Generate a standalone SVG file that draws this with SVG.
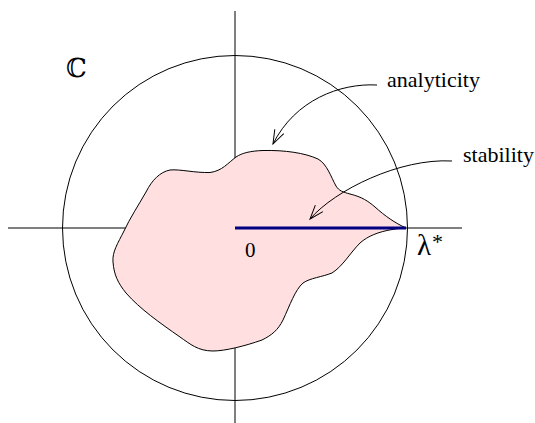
<svg xmlns="http://www.w3.org/2000/svg" width="535" height="423" viewBox="0 0 535 423">
<style>
.ln{fill:none;stroke:#000;stroke-width:1}
.txt{font-family:"Liberation Serif","Times New Roman",serif;fill:#000}
</style>
<defs>
<marker id="arr" viewBox="-16 -7 17 14" refX="0" refY="0" markerWidth="17" markerHeight="14" markerUnits="userSpaceOnUse" orient="auto" overflow="visible">
<path d="M-14,-5 L0,0 L-14,5" fill="none" stroke="#000" stroke-width="1"/>
</marker>
</defs>
<rect width="535" height="423" fill="#fff"/>
<g id="plane">
<circle class="ln" cx="235" cy="228" r="172.5"/>
<line class="ln" x1="8" y1="228" x2="462" y2="228"/>
<line class="ln" x1="235" y1="11" x2="235" y2="423"/>
</g>
<g id="region">
<path d="M406,228 C395,223 385,216 375,207 C368,201 362,197 350,194 C343,192 339,191 336,186 C331,177 327,164 318,159 C305,153 285,150 263,150.5 C250,151 242,153 236,157 C228,163 222,171 210,172.5 C195,173 180,169 170,170 C160,172 152,180 146,192 C138,206 130,218 124,231 C118,243 112,252 113,262 C114,275 118,283 126,293 C140,309 160,323 180,337 C190,344 198,351 213,351 C225,351 245,346 262,340 C272,335 278,330 283,320 C290,305 295,290 303,283 C310,278 322,277 332,273 C343,266 350,253 360,243 C368,236 378,232 392,229.5 C398,228.5 402,228 406,228 Z" fill="#ffdfe0" stroke="#000" stroke-width="1"/>
<line x1="235" y1="228" x2="406" y2="228" stroke="#000080" stroke-width="3"/>
</g>
<g id="connectors">
<path class="ln" d="M377,85 C340,83 295,100 273,144" marker-end="url(#arr)"/>
<path class="ln" d="M452,161 C400,158 335,190 310,219" marker-end="url(#arr)"/>
</g>
<g id="label-C"><text class="txt" x="66" y="77" style="font-family:'DejaVu Serif',serif" font-size="26">ℂ</text></g>
<g id="label-analyticity"><text class="txt" x="387" y="87" font-size="21" textLength="93" lengthAdjust="spacingAndGlyphs">analyticity</text></g>
<g id="label-stability"><text class="txt" x="463" y="162" font-size="21" textLength="71" lengthAdjust="spacingAndGlyphs">stability</text></g>
<g id="label-0"><text class="txt" x="245" y="256.5" font-size="21">0</text></g>
<g id="label-lambda"><text class="txt" x="417" y="254.5" font-size="29">λ</text><text class="txt" x="432" y="249" font-size="22">*</text></g>
</svg>
